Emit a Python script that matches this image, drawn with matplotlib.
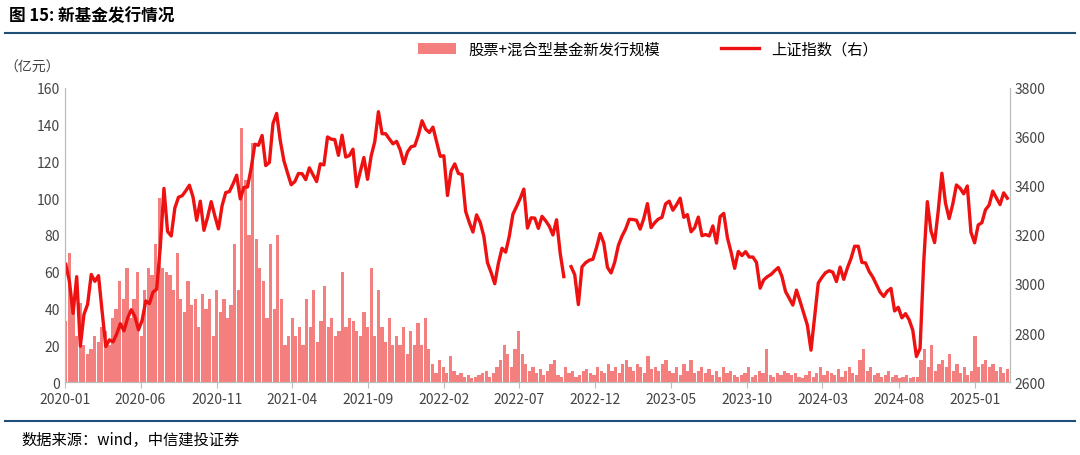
import matplotlib
matplotlib.use("Agg")
import matplotlib.pyplot as plt
import numpy as np
import pandas as pd

plt.rcParams['font.family'] = ['Noto Sans CJK SC', 'DejaVu Sans']

sse_2020 = [3080,3010,2880,3030,2746,2876,2917,3039,3011,3034,2887,2745,2772,2764,2796,2838,2809,
            2860,2895,2868,2813,2852,2931,2920,2967,2979,3152,3390,3214,3196,3310,3354,3360,3380,3403,
            3355,3260,3338,3219,3272,3336,3278,3225,3320,3373,3377,3408,3444,3347,3394,3396,3473]
sse_2021 = [3570,3566,3606,3483,3496,3655,3696,3585,3503,3453,3405,3418,3451,3450,3426,3474,3446,
            3418,3490,3486,3600,3591,3589,3525,3607,3518,3524,3550,3397,3458,3516,3427,3522,3581,3703,
            3613,3613,3592,3572,3582,3547,3491,3539,3560,3564,3608,3666,3632,3618,3640]
sse_2022 = [3580,3521,3523,3361,3462,3490,3451,3447,3296,3251,3212,3282,3251,3195,3087,3047,3001,
            3084,3146,3130,3195,3285,3316,3349,3387,3228,3270,3269,3227,3276,3258,3236,3200,3262,3126,
            3030,np.nan,3071,3038,2916,3070,3087,3097,3101,3149,3206,3167,3068,3045,3089]
sse_2023 = [3157,3195,3224,3264,3263,3260,3224,3267,3328,3230,3250,3265,3272,3327,3338,3301,3323,
            3350,3272,3283,3213,3230,3273,3197,3202,3196,3237,3167,3275,3288,3189,3131,3064,3133,3116,
            3132,3110,3110,3088,2983,3017,3030,3039,3054,3067,3031,2969,2942,2914,2975]
sse_2024 = [2929,2881,2832,2730,2866,3004,3027,3046,3054,3048,3010,3069,3019,3065,3104,3154,3154,
            3088,3086,3051,3028,2998,2967,2949,2971,2982,2890,2905,2862,2879,2854,2811,2704,2737,3088,
            3336,3217,3169,3299,3452,3330,3267,3326,3404,3391,3368,3400,3211,3168,3241,3250]
sse_2025 = [3303,3322,3379,3351,3324,3372,3350]

bar_2020 = [33,70,45,25,43,20,15,18,25,22,30,28,20,35,40,55,45,62,35,45,60,25,50,62,58,75,100,
            62,60,58,50,70,45,38,55,42,45,30,48,40,45,25,50,38,45,35,42,75,50,138,110,80]
bar_2021 = [130,78,62,55,35,75,40,80,45,20,25,35,25,30,20,45,30,50,22,33,52,30,35,25,28,60,30,
            35,33,28,25,38,30,62,25,50,30,22,35,20,25,20,30,15,28,20,32,20,35,18]
bar_2022 = [10,5,12,8,5,14,6,4,5,3,4,2,3,4,5,6,3,5,8,12,20,15,8,18,28,15,10,6,8,5,7,4,6,10,12,
            4,3,8,5,6,3,4,6,7,5,4,8,6,5,10]
bar_2023 = [6,8,5,10,12,8,6,10,8,5,14,7,8,6,10,12,6,5,8,4,10,6,12,5,6,8,5,7,4,6,3,8,5,6,4,
            3,4,5,8,3,4,6,5,18,4,3,5,4,6,5]
bar_2024 = [4,5,3,2,4,6,3,5,8,4,6,5,4,7,3,6,8,5,4,12,18,6,8,4,5,3,4,6,3,4,2,3,4,2,3,
            3,12,18,8,20,6,10,12,8,15,6,10,5,8,4,6]
bar_2025 = [25,8,10,12,8,10,6,8,5,7]

left_ticks = [0, 20, 40, 60, 80, 100, 120, 140, 160]
right_ticks = [2600, 2800, 3000, 3200, 3400, 3600, 3800]
x_labels = ['2020-01','2020-06','2020-11','2021-04','2021-09','2022-02','2022-07',
            '2022-12','2023-05','2023-10','2024-03','2024-08','2025-01']

sse = sse_2020 + sse_2021 + sse_2022 + sse_2023 + sse_2024 + sse_2025
bars = bar_2020 + bar_2021 + bar_2022 + bar_2023 + bar_2024 + bar_2025
start, end = pd.Timestamp('2020-01-03'), pd.Timestamp('2025-03-07')
d_line = pd.date_range(start, end, periods=len(sse))
d_bar = pd.date_range(start, end, periods=len(bars))

fig = plt.figure(figsize=(10.8, 4.56), dpi=100)
ax = fig.add_axes([0.060, 0.16, 0.875, 0.645])
ax.bar(d_bar, bars, width=6.5, color='#f47f7f', label='股票+混合型基金新发行规模')
ax.set_ylim(0, 160)
ax.set_yticks(left_ticks)
ax.set_xlim(pd.Timestamp('2020-01-01'), pd.Timestamp('2025-03-12'))
ticks = [pd.Timestamp(s + '-01') for s in x_labels]
ax.set_xticks(ticks)
ax.set_xticklabels(x_labels)
ax2 = ax.twinx()
ax2.plot(d_line, sse, color='#ee1111', lw=2.4, label='上证指数（右）')
ax2.set_ylim(2600, 3800)
ax2.set_yticks(right_ticks)
for a in (ax, ax2):
    a.tick_params(labelsize=10, colors='#444444', length=0)
    a.spines['top'].set_visible(False)
    for s in ('left', 'right', 'bottom'):
        a.spines[s].set_color('#bbbbbb')
ax.tick_params(axis='x', length=4, color='#bbbbbb')
ax.text(-0.005, 1.06, '（亿元）', transform=ax.transAxes, fontsize=10, color='#444444', ha='right')

h1, l1 = ax.get_legend_handles_labels()
h2, l2 = ax2.get_legend_handles_labels()
fig.legend(h1 + h2, l1 + l2, loc='center', bbox_to_anchor=(0.6, 0.89), ncol=2,
           frameon=False, fontsize=11, handlelength=2.5, columnspacing=4)

fig.text(0.008, 0.965, '图 15: 新基金发行情况', fontsize=12, fontweight='bold', va='center')
fig.add_artist(plt.Line2D([0.005, 0.995], [0.925, 0.925], color='#1f4e79', lw=1.5))
fig.add_artist(plt.Line2D([0.005, 0.995], [0.075, 0.075], color='#1f4e79', lw=1.5))
fig.text(0.02, 0.035, '数据来源：wind，中信建投证券', fontsize=11, style='italic', va='center')

fig.savefig('out.png', dpi=100)
